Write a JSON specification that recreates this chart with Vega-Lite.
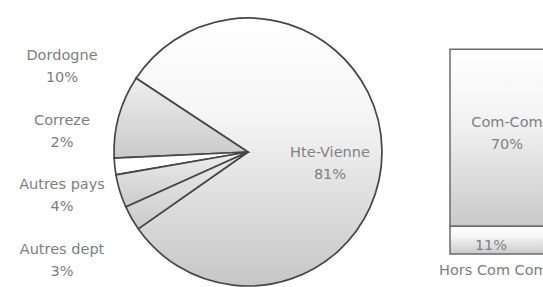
{
  "$schema": "https://vega.github.io/schema/vega-lite/v6.json",
  "autosize": {"type": "none"},
  "width": 496,
  "height": 268,
  "padding": {"left": 0, "top": 18, "right": 47, "bottom": 1},
  "background": "white",
  "config": {
    "view": {"stroke": null},
    "text": {"font": "DejaVu Sans", "fontSize": 14.5, "fill": "#808080", "lineHeight": 22}
  },
  "datasets": {
    "origine": [
      {"region": "Hte-Vienne", "pct": 81, "zone": "Haute-Vienne"},
      {"region": "Dordogne", "pct": 10, "zone": "Hors Haute-Vienne"},
      {"region": "Correze", "pct": 2, "zone": "Hors Haute-Vienne"},
      {"region": "Autres pays", "pct": 4, "zone": "Hors Haute-Vienne"},
      {"region": "Autres dept", "pct": 3, "zone": "Hors Haute-Vienne"}
    ],
    "detail": [
      {"region": "Com-Com", "pct": 70, "zone": "Haute-Vienne"},
      {"region": "Hors Com Com", "pct": 11, "zone": "Haute-Vienne"}
    ]
  },
  "resolve": {"scale": {"y": "independent"}},
  "layer": [
    {
      "data": {"name": "origine"},
      "mark": {"type": "arc", "outerRadius": 134, "stroke": "#474747", "strokeWidth": 1.7},
      "encoding": {
        "theta": {"field": "pct", "type": "quantitative", "stack": true, "scale": {"range": [4.1015, 10.3847]}},
        "order": {"field": "region", "type": "ordinal"},
        "detail": {"field": "region"},
        "fill": {
          "condition": [
            {"test": "datum.region === 'Correze'", "value": "#ffffff"},
            {"test": "datum.region === 'Hte-Vienne'", "value": {"gradient": "linear", "x1": 0, "y1": 0, "x2": 0, "y2": 1, "stops": [{"offset": 0, "color": "#ffffff"}, {"offset": 0.35, "color": "#f6f6f6"}, {"offset": 1, "color": "#c6c6c6"}]}}
          ],
          "value": {"gradient": "linear", "x1": 0, "y1": 0, "x2": 0, "y2": 1, "stops": [{"offset": 0, "color": "#eeeeee"}, {"offset": 1, "color": "#cacaca"}]}
        }
      }
    },
    {
      "data": {"name": "origine"},
      "transform": [{"calculate": "datum.region === 'Hte-Vienne' ? [datum.region, datum.pct + '%'] : ''", "as": "lbl"}],
      "mark": {"type": "text", "radius": 82, "baseline": "middle", "align": "center", "dy": 2},
      "encoding": {
        "theta": {"field": "pct", "type": "quantitative", "stack": true},
        "order": {"field": "region", "type": "ordinal"},
        "detail": {"field": "region"},
        "text": {"field": "lbl"}
      }
    },
    {
      "data": {"name": "origine"},
      "transform": [
        {"filter": "datum.zone === 'Hors Haute-Vienne'"},
        {"calculate": "[datum.region, datum.pct + '%']", "as": "lbl"}
      ],
      "mark": {"type": "text", "baseline": "middle", "align": "center"},
      "encoding": {
        "x": {"field": "zone", "type": "nominal", "axis": null, "scale": {"type": "band", "domain": ["Hors Haute-Vienne", "Haute-Vienne"], "range": [9, 556], "paddingInner": 0.7596, "paddingOuter": 0}},
        "y": {"field": "region", "type": "nominal", "axis": null, "scale": {"type": "point", "domain": ["Dordogne", "Correze", "Autres pays", "Autres dept"], "range": [38, 232], "padding": 0}},
        "text": {"field": "lbl"}
      }
    },
    {
      "data": {"name": "detail"},
      "transform": [
        {"stack": "pct", "groupby": ["zone"], "sort": [{"field": "region", "order": "descending"}], "as": ["v0", "v1"]},
        {"calculate": "(datum.v0 + datum.v1) / 2", "as": "vmid"},
        {"calculate": "datum.pct + '%'", "as": "pctlbl"}
      ],
      "layer": [
        {
          "mark": {"type": "bar", "stroke": "#6b6b6b", "strokeWidth": 1.5, "fill": {"gradient": "linear", "x1": 0, "y1": 0, "x2": 0, "y2": 1, "stops": [{"offset": 0, "color": "#ffffff"}, {"offset": 0.4, "color": "#f3f3f3"}, {"offset": 1, "color": "#c9c9c9"}]}},
          "encoding": {
            "x": {"field": "zone", "type": "nominal", "axis": null},
            "y": {"field": "v0", "type": "quantitative", "axis": null, "scale": {"domain": [-12.6, 93.3], "nice": false, "zero": false}},
            "y2": {"field": "v1"}
          }
        },
        {
          "transform": [
            {"filter": "datum.region === 'Com-Com'"},
            {"calculate": "[datum.region, datum.pct + '%']", "as": "lbl"}
          ],
          "mark": {"type": "text", "baseline": "middle", "align": "center", "dx": 4, "dy": -15},
          "encoding": {
            "x": {"field": "zone", "type": "nominal", "axis": null},
            "y": {"field": "vmid", "type": "quantitative", "axis": null},
            "text": {"field": "lbl"}
          }
        },
        {
          "transform": [{"filter": "datum.region === 'Hors Com Com'"}],
          "mark": {"type": "text", "baseline": "middle", "align": "center", "dx": -12, "dy": 6},
          "encoding": {
            "x": {"field": "zone", "type": "nominal", "axis": null},
            "y": {"field": "vmid", "type": "quantitative", "axis": null},
            "text": {"field": "pctlbl"}
          }
        },
        {
          "transform": [{"filter": "datum.region === 'Hors Com Com'"}],
          "mark": {"type": "text", "baseline": "top", "align": "left", "dx": -64, "dy": 10},
          "encoding": {
            "x": {"field": "zone", "type": "nominal", "axis": null},
            "y": {"field": "v0", "type": "quantitative", "axis": null},
            "text": {"field": "region"}
          }
        }
      ]
    }
  ]
}
